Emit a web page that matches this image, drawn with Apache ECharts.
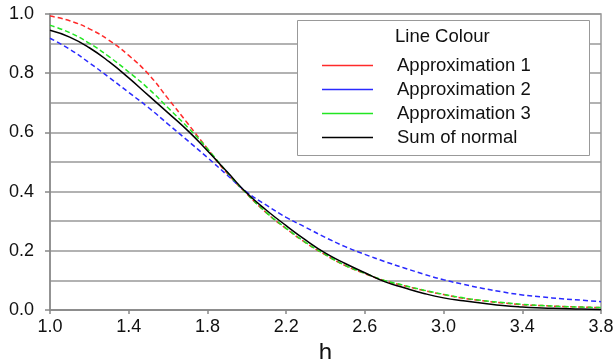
<!DOCTYPE html>
<html>
<head>
<meta charset="utf-8">
<script src="https://cdn.jsdelivr.net/npm/echarts@6/dist/echarts.min.js"></script>
<style>
  html, body { margin: 0; padding: 0; background: #fff; }
  #chart { width: 616px; height: 359px; }
</style>
</head>
<body>
<div id="chart"></div>
<script>
// h values (0.1 steps)
const hValues = [1.0, 1.1, 1.2, 1.3, 1.4, 1.5, 1.6, 1.7, 1.8, 1.9, 2.0, 2.1, 2.2, 2.3, 2.4,
  2.5, 2.6, 2.7, 2.8, 2.9, 3.0, 3.1, 3.2, 3.3, 3.4, 3.5, 3.6, 3.7, 3.8];

const approx1 = [0.993, 0.977, 0.950, 0.911, 0.860, 0.797, 0.714, 0.630, 0.545, 0.462, 0.392,
  0.328, 0.275, 0.227, 0.186, 0.150, 0.123, 0.099, 0.082, 0.066, 0.052, 0.040, 0.031, 0.024,
  0.018, 0.015, 0.012, 0.010, 0.008];
const approx2 = [0.918, 0.881, 0.835, 0.786, 0.735, 0.684, 0.628, 0.572, 0.515, 0.456, 0.398,
  0.354, 0.313, 0.279, 0.245, 0.214, 0.188, 0.164, 0.142, 0.121, 0.102, 0.087, 0.073, 0.061,
  0.051, 0.044, 0.038, 0.033, 0.028];
const approx3 = [0.962, 0.937, 0.901, 0.856, 0.804, 0.748, 0.683, 0.617, 0.545, 0.465, 0.393,
  0.329, 0.276, 0.228, 0.187, 0.151, 0.124, 0.100, 0.083, 0.067, 0.053, 0.041, 0.032, 0.025,
  0.019, 0.015, 0.012, 0.010, 0.008];
const sumNormal = [0.945, 0.922, 0.886, 0.839, 0.784, 0.725, 0.666, 0.606, 0.538, 0.467, 0.395,
  0.337, 0.285, 0.236, 0.192, 0.157, 0.126, 0.096, 0.075, 0.056, 0.041, 0.031, 0.023, 0.015,
  0.010, 0.007, 0.005, 0.003, 0.002];

const seriesNames = ['Approximation 1', 'Approximation 2', 'Approximation 3', 'Sum of normal'];
const seriesColors = ['#ff2a2a', '#2a2aff', '#22e622', '#000000'];
const seriesData = [approx1, approx2, approx3, sumNormal];

const font = 'Liberation Sans, Arial, sans-serif';
const chart = echarts.init(document.getElementById('chart'));

chart.setOption({
  animation: false,
  grid: {
    left: 50, right: 15, top: 14, bottom: 49,
    outerBoundsMode: 'none',
    show: true, borderColor: '#999', borderWidth: 1.5
  },
  xAxis: {
    type: 'value',
    min: 1.0, max: 3.8, interval: 0.4,
    name: 'h', nameLocation: 'middle', nameGap: 24,
    nameTextStyle: { fontFamily: font, fontSize: 24, color: '#111' },
    axisLine: { lineStyle: { color: '#888', width: 1.5 } },
    axisTick: { show: true, length: 4, lineStyle: { color: '#888', width: 1.5 } },
    axisLabel: {
      fontFamily: font, fontSize: 18, color: '#111', margin: 8,
      formatter: v => v.toFixed(1)
    },
    splitLine: { show: false }
  },
  yAxis: {
    type: 'value',
    min: 0, max: 1.0, interval: 0.2,
    axisLine: { show: true, lineStyle: { color: '#888', width: 1.5 } },
    axisTick: { show: true, length: 5, lineStyle: { color: '#888', width: 1.5 } },
    axisLabel: {
      fontFamily: font, fontSize: 18, color: '#111', margin: 16,
      formatter: v => v.toFixed(1)
    },
    splitLine: { show: true, lineStyle: { color: '#999', width: 1.5 } },
    minorTick: { show: false, splitNumber: 2 },
    minorSplitLine: { show: true, lineStyle: { color: '#999', width: 1.5 } }
  },
  legend: {
    orient: 'vertical',
    left: 322, top: 56,
    z: 5,
    icon: 'rect',
    itemWidth: 51, itemHeight: 1.5,
    itemGap: 5,
    padding: 0,
    selectedMode: false,
    data: seriesNames,
    textStyle: {
      fontFamily: font, fontSize: 18.5, color: '#111', lineHeight: 18,
      padding: [0, 0, 0, 19]
    }
  },
  graphic: [
    {
      type: 'rect', z: 4,
      shape: { x: 297.5, y: 20.5, width: 292, height: 135 },
      style: { fill: '#fff', stroke: '#999', lineWidth: 1 }
    },
    {
      type: 'text', z: 5, x: 395, y: 37,
      style: {
        text: 'Line Colour', fontFamily: font, fontSize: 18.5, fill: '#111',
        verticalAlign: 'middle'
      }
    }
  ],
  series: seriesNames.map((name, i) => ({
    name: name,
    type: 'line',
    smooth: true,
    showSymbol: false,
    color: seriesColors[i],
    lineStyle: {
      color: seriesColors[i],
      width: 1.5,
      type: i === 3 ? 'solid' : [5, 3]
    },
    data: hValues.map((h, j) => [h, seriesData[i][j]])
  }))
});
</script>
</body>
</html>
